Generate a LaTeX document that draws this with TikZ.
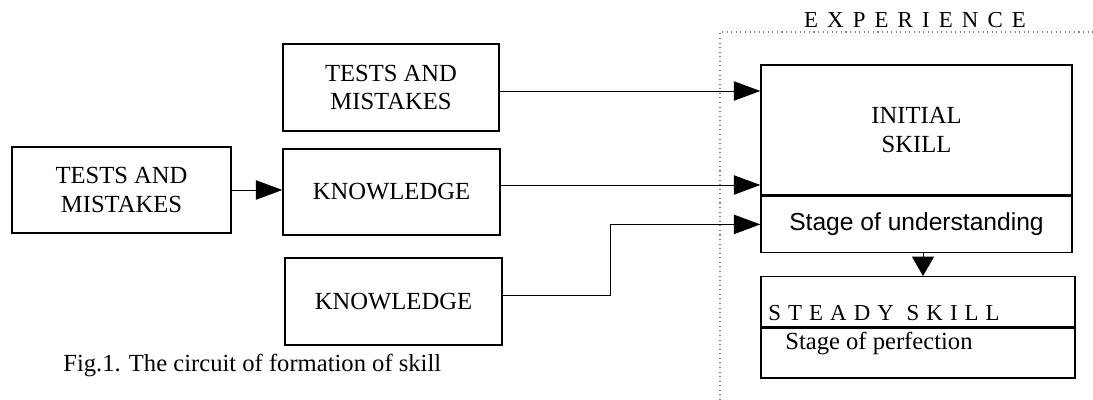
\documentclass[tikz,border=0pt]{standalone}
\usepackage{fontspec}
\setmainfont{Liberation Serif}
\newfontfamily\arialfont{Liberation Sans}
\newfontfamily\widefont[LetterSpace=40]{Liberation Serif}
\newfontfamily\steadyfont[LetterSpace=31]{Liberation Serif}
\usetikzlibrary{arrows.meta}

\begin{document}
\begin{tikzpicture}[
		box/.style={draw, line width=0.8pt, inner sep=0pt, align=center, font=\fontsize{14}{16}\selectfont},
		link/.style={line width=0.5pt},
		bigtip/.style={-{Triangle[length=15pt,width=11pt]}}
	]
		\useasboundingbox (0,0) rectangle (21.86,8);

		% left column
		\node[box, minimum width=4.32cm, minimum height=1.74cm] (tests) at (7.82,6.25) {TESTS AND\\MISTAKES};
		\node[box, minimum width=4.38cm, minimum height=1.72cm] (testsleft) at (2.43,4.20) {TESTS AND\\MISTAKES};
		\node[box, minimum width=4.34cm, minimum height=1.72cm] (know) at (7.83,4.16) {KNOWLEDGE};
		\node[box, minimum width=4.34cm, minimum height=1.74cm] (knowlow) at (7.87,1.97) {KNOWLEDGE};
		\node[anchor=base west, inner sep=0pt, font=\fontsize{14}{16}\selectfont] (caption) at (1.26,0.56) {Fig.1. The circuit of formation of skill};

		% experience
		\draw[dotted, gray, line width=0.6pt] (14.40,0) -- (14.40,7.36) -- (21.86,7.36);
		\node[anchor=base, inner sep=0pt, font=\widefont\fontsize{13}{15}\selectfont] (exp) at (18.30,7.44) {EXPERIENCE};

		\node[box, minimum width=6.22cm, minimum height=2.60cm] (initial) at (18.33,5.40) {INITIAL\\SKILL};
		\node[box, minimum width=6.22cm, minimum height=1.12cm, anchor=north, font=\arialfont\fontsize{14}{16}\selectfont] (under) at (initial.south) {Stage of understanding};

		\node[box, minimum width=6.28cm, minimum height=1.0cm, anchor=north] (steady) at (18.36,2.48) {};
		\node[box, minimum width=6.28cm, minimum height=1.0cm, anchor=north] (perfect) at (steady.south) {};
		\node[anchor=base west, inner sep=0pt, font=\steadyfont\fontsize{13}{15}\selectfont] (steadytext) at (15.36,1.58) {STEADY SKILL};
		\node[anchor=base west, inner sep=0pt, font=\fontsize{14}{16}\selectfont] (perftext) at (15.70,1.00) {Stage of perfection};

		% arrows
		\draw[link, bigtip] (testsleft.east) -- (testsleft.east -| know.west);
		\draw[link, bigtip] ([yshift=-0.07cm]tests.east) -- ([yshift=-0.07cm]tests.east -| initial.west);
		\draw[link, bigtip] ([yshift=0.14cm]know.east) -- ([yshift=0.14cm]know.east -| initial.west);
		\draw[link, bigtip] ([yshift=0.13cm]knowlow.east) -- ++(2.16,0) |- (under.west);
		\draw[link, -{Triangle[length=11pt,width=12.5pt]}] ([xshift=0.13cm]under.south) -- ([xshift=0.13cm]under.south |- steady.north);
\end{tikzpicture}
\end{document}
